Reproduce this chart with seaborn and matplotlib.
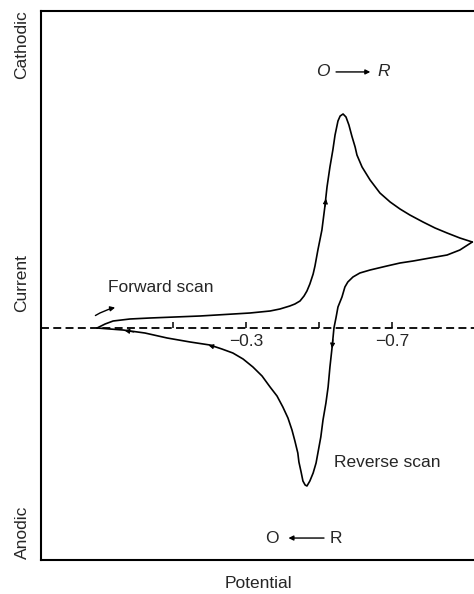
import matplotlib
matplotlib.use("Agg")
import matplotlib.pyplot as plt
import pandas as pd
import seaborn as sns

# potential (V) and current (arbitrary units, cathodic positive)
fwd_E = [0.108, 0.086, 0.064, 0.018, -0.037, -0.174, -0.311, -0.366, -0.393, -0.420,
         -0.434, -0.448, -0.459, -0.467, -0.475, -0.484, -0.489, -0.497, -0.508, -0.516,
         -0.522, -0.530, -0.538, -0.544, -0.552, -0.558, -0.566, -0.574, -0.582, -0.590,
         -0.599, -0.604, -0.618, -0.640, -0.667, -0.695, -0.722, -0.749, -0.785, -0.818,
         -0.851, -0.886, -0.920]
fwd_I = [0.0, 0.4, 0.7, 0.9, 1.0, 1.2, 1.5, 1.7, 1.9, 2.2,
         2.4, 2.7, 3.2, 3.7, 4.4, 5.4, 6.2, 7.8, 9.8, 12.1,
         14.1, 16.1, 17.8, 19.3, 20.7, 21.2, 21.4, 21.1, 20.3, 19.2,
         18.1, 17.3, 16.1, 14.8, 13.5, 12.6, 11.9, 11.3, 10.6, 10.0,
         9.5, 9.0, 8.6]

rev_E = [-0.920, -0.886, -0.851, -0.804, -0.758, -0.722, -0.686, -0.640, -0.612, -0.593,
         -0.579, -0.571, -0.563, -0.552, -0.547, -0.541, -0.536, -0.530, -0.525, -0.519,
         -0.511, -0.505, -0.497, -0.492, -0.484, -0.475, -0.467, -0.462, -0.456, -0.451,
         -0.445, -0.442, -0.434, -0.426, -0.415, -0.401, -0.385, -0.366, -0.344, -0.319,
         -0.292, -0.264, -0.234, -0.201, -0.147, -0.084, -0.023, 0.037, 0.073, 0.108]
rev_I = [8.6, 7.8, 7.3, 7.0, 6.7, 6.5, 6.2, 5.8, 5.5, 5.1,
         4.6, 4.1, 3.1, 2.1, 1.1, 0.0, -1.9, -3.9, -5.9, -7.5,
         -9.2, -10.9, -12.5, -13.5, -14.5, -15.3, -15.8, -15.7, -15.3, -14.4,
         -13.4, -12.5, -11.3, -10.2, -9.0, -7.9, -6.8, -5.9, -4.8, -3.9,
         -3.1, -2.5, -2.1, -1.7, -1.4, -1.0, -0.5, -0.2, -0.1, 0.0]

tick_pos = [-0.1, -0.3, -0.5, -0.7]
tick_labels = {-0.3: "\u22120.3", -0.7: "\u22120.7"}

df = pd.DataFrame({
    "E": fwd_E + rev_E,
    "I": fwd_I + rev_I,
    "scan": ["forward"] * len(fwd_E) + ["reverse"] * len(rev_E),
})

sns.set_style("white")
plt.rcParams["font.family"] = ["Liberation Sans", "DejaVu Sans"]
plt.rcParams["font.size"] = 12.5

fig = plt.figure(figsize=(4.74, 5.94), dpi=100)
ax = fig.add_axes([41 / 474, 34 / 594, 433 / 474, 549 / 594])

sns.lineplot(data=df, x="E", y="I", units="scan", estimator=None, sort=False,
             color="black", lw=1.2, ax=ax, legend=False)
for ln in ax.lines:
    ln.set_solid_joinstyle("round")

ax.set_xlim(0.2616, -0.9247)
ax.set_ylim(-23.2, 31.7)

# zero line with potential ticks
ax.axhline(0, color="black", lw=1.3, dashes=(4.4, 2.4))
ax.vlines(tick_pos, 0, 0.6, color="black", lw=1.1)
for t, lab in tick_labels.items():
    ax.annotate(lab, (t, 0), xytext=(0, -10), textcoords="offset points",
                ha="center", va="center")

# direction arrowheads on the curve
arrow_style = dict(arrowstyle="-|>", color="black", lw=0.8, mutation_scale=7)
for p0, p1 in [((-0.516, 11.9), (-0.520, 13.2)),
               ((-0.539, -0.9), (-0.535, -2.3)),
               ((-0.22, -1.95), (-0.19, -1.65)),
               ((0.00, -0.45), (0.04, -0.2))]:
    ax.annotate("", xy=p1, xytext=p0, arrowprops=arrow_style)
ax.annotate("", xy=(0.051, 2.1), xytext=(0.119, 1.1),
            arrowprops=dict(arrowstyle="-|>", color="black", lw=1.0, mutation_scale=7,
                            connectionstyle="arc3,rad=-0.1"))

# labels
ax.text(0.155, 0.497, "Forward scan", transform=ax.transAxes, va="center", ha="left")
ax.text(0.677, 0.1785, "Reverse scan", transform=ax.transAxes, va="center", ha="left")

ax.text(0.651, 0.889, "O", transform=ax.transAxes, va="center", ha="center", style="italic")
ax.text(0.792, 0.889, "R", transform=ax.transAxes, va="center", ha="center", style="italic")
ax.annotate("", xy=(0.767, 0.889), xytext=(0.675, 0.889), xycoords="axes fraction",
            arrowprops=dict(arrowstyle="-|>", color="black", lw=1.0, mutation_scale=7))

ax.text(0.533, 0.040, "O", transform=ax.transAxes, va="center", ha="center")
ax.text(0.681, 0.040, "R", transform=ax.transAxes, va="center", ha="center")
ax.annotate("", xy=(0.565, 0.040), xytext=(0.660, 0.040), xycoords="axes fraction",
            arrowprops=dict(arrowstyle="-|>", color="black", lw=1.0, mutation_scale=7))

fig.text(22 / 474, 1 - 45 / 594, "Cathodic", rotation=90, ha="center", va="center")
fig.text(22 / 474, 1 - 283 / 594, "Current", rotation=90, ha="center", va="center")
fig.text(22 / 474, 1 - 532 / 594, "Anodic", rotation=90, ha="center", va="center")
fig.text(258 / 474, 1 - 584 / 594, "Potential", ha="center", va="center")

ax.set_xticks([])
ax.set_yticks([])
ax.set_xlabel("")
ax.set_ylabel("")
for s in ["left", "top", "bottom"]:
    ax.spines[s].set_linewidth(1.5)
    ax.spines[s].set_color("black")
ax.spines["right"].set_visible(False)

fig.savefig("out.png", dpi=100)
